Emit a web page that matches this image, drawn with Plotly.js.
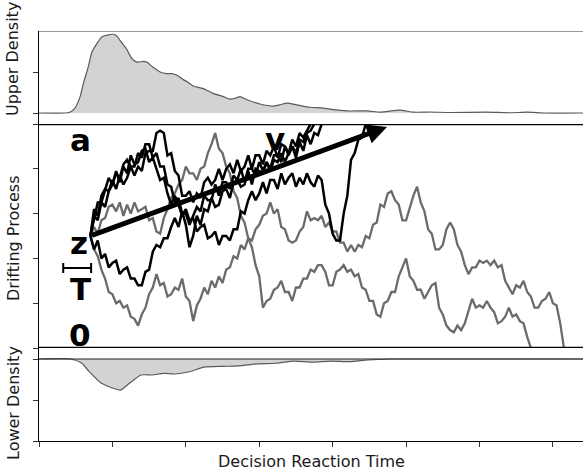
<!DOCTYPE html>
<html><head><meta charset="utf-8">
<script src="https://cdn.plot.ly/plotly-3.0.1.min.js"></script>
<style>html,body{margin:0;padding:0;background:#fff}#chart{width:583px;height:473px}</style>
</head><body><div id="chart"></div>
<script>
// ---------- data ----------
const X_TICKS = [0,1,2,3,4,5,6,7];
const MID_TICKS = [0,0.2,0.4,0.6,0.8,1.0];
const UPPER_TICKS = [0,0.5];
const LOWER_TICKS = [-1,-0.5,0];

// upper-boundary RT density
const UPPER_X = [0,0.354,0.42,0.49,0.56,0.61,0.67,0.72,0.79,0.86,0.93,1.01,1.06,1.10,1.16,1.20,1.24,1.28,1.34,1.42,1.47,1.55,1.65,1.74,1.81,1.88,1.96,2.02,2.10,2.23,2.37,2.51,2.60,2.67,2.74,2.81,2.87,3.01,3.19,3.28,3.38,3.51,3.69,3.87,4.01,4.20,4.47,4.65,4.92,5.10,5.33,5.60,6.10,6.42,6.65,6.89,7.41];
const UPPER_Y = [0,0,0.01,0.06,0.20,0.38,0.56,0.74,0.85,0.93,0.95,0.96,0.94,0.89,0.82,0.77,0.70,0.65,0.62,0.63,0.62,0.56,0.50,0.48,0.48,0.46,0.41,0.38,0.33,0.30,0.24,0.20,0.17,0.18,0.20,0.17,0.15,0.11,0.085,0.10,0.12,0.10,0.07,0.06,0.04,0.025,0.025,0.01,0.035,0.01,0.012,0.006,0.01,0.003,0.01,0,0];

// lower-boundary RT density (drawn downward)
const LOWER_X = [0,0.43,0.58,0.68,0.84,0.99,1.11,1.24,1.39,1.54,1.70,1.85,2.05,2.25,2.50,2.71,2.96,3.22,3.47,3.72,3.98,4.23,4.48,4.78,7.41];
const LOWER_Y = [0,0,-0.05,-0.15,-0.29,-0.35,-0.38,-0.29,-0.195,-0.195,-0.175,-0.183,-0.155,-0.10,-0.09,-0.085,-0.06,-0.052,-0.025,-0.037,-0.025,-0.033,-0.012,0,0];

// simulation time grid
const TIME = [0.70,0.75,0.80,0.85,0.90,0.95,1.00,1.05,1.10,1.15,1.20,1.25,1.30,1.35,1.40,1.45,1.50,1.55,1.60,1.65,1.70,1.75,1.80,1.85,1.90,1.95,2.00,2.05,2.10,2.15,2.20,2.25,2.30,2.35,2.40,2.45,2.50,2.55,2.60,2.65,2.70,2.75,2.80,2.85,2.90,2.95,3.00,3.05,3.10,3.15,3.20,3.25,3.30,3.35,3.40,3.45,3.50,3.55,3.60,3.65,3.70,3.75,3.80,3.85,3.90,3.95,4.00,4.05,4.10,4.15,4.20,4.25,4.30,4.35,4.40,4.45,4.50,4.55,4.60,4.65,4.70,4.75,4.80,4.85,4.90,4.95,5.00,5.05,5.10,5.15,5.20,5.25,5.30,5.35,5.40,5.45,5.50,5.55,5.60,5.65,5.70,5.75,5.80,5.85,5.90,5.95,6.00,6.05,6.10,6.15,6.20,6.25,6.30,6.35,6.40,6.45,6.50,6.55,6.60,6.65,6.70,6.75,6.80,6.85,6.90,6.95,7.00,7.05,7.10,7.15];

// paths ending at the lower boundary (gray)
const LOWER_PATH_1 = [0.50,0.44,0.41,0.35,0.31,0.25,0.24,0.20,0.21,0.18,
  0.19,0.14,0.13,0.10,0.15,0.18,0.24,0.27,0.33,0.28,
  0.29,0.23,0.24,0.27,0.26,0.31,0.23,0.21,0.12,0.19,
  0.22,0.27,0.24,0.30,0.27,0.32,0.29,0.35,0.36,0.41,
  0.40,0.46,0.44,0.49,0.48,0.53,0.55,0.59,0.60,0.65,
  0.60,0.62,0.54,0.53,0.48,0.47,0.48,0.52,0.54,0.61,
  0.57,0.58,0.57,0.59,0.54,0.56,0.52,0.52,0.47,0.47,
  0.43,0.46,0.43,0.46,0.45,0.50,0.49,0.55,0.56,0.64,
  0.63,0.69,0.70,0.66,0.64,0.57,0.57,0.63,0.68,0.72,
  0.65,0.61,0.53,0.51,0.44,0.44,0.46,0.53,0.56,0.53,
  0.46,0.43,0.37,0.33,0.36,0.36,0.39,0.38,0.39,0.37,
  0.39,0.36,0.37,0.30,0.27,0.24,0.28,0.27,0.30,0.25,
  0.23,0.18,0.18,0.21,0.22,0.25,0.20,0.19,0.11,0.00];
const LOWER_PATH_2 = [0.50,0.54,0.51,0.57,0.58,0.63,0.64,0.61,0.65,0.59,
  0.64,0.60,0.65,0.61,0.62,0.63,0.57,0.58,0.52,0.51,
  0.58,0.62,0.67,0.69,0.73,0.75,0.81,0.78,0.78,0.75,
  0.80,0.81,0.87,0.91,0.96,0.89,0.87,0.81,0.78,0.70,
  0.67,0.59,0.56,0.49,0.45,0.37,0.32,0.18,0.21,0.22,
  0.26,0.27,0.30,0.25,0.25,0.21,0.27,0.27,0.31,0.31,
  0.35,0.34,0.37,0.37,0.34,0.28,0.28,0.34,0.35,0.37,
  0.34,0.35,0.32,0.33,0.27,0.26,0.21,0.21,0.15,0.14,
  0.20,0.21,0.25,0.25,0.32,0.36,0.40,0.32,0.30,0.26,
  0.26,0.22,0.25,0.28,0.29,0.18,0.15,0.10,0.08,0.07,
  0.10,0.08,0.11,0.16,0.22,0.18,0.19,0.18,0.21,0.18,
  0.16,0.11,0.12,0.14,0.18,0.14,0.15,0.12,0.11,0.05,0.00];

// paths ending at the upper boundary (black)
const UPPER_PATH_1 = [0.50,0.59,0.57,0.65,0.63,0.70,0.75,0.71,0.77,0.73,
  0.76,0.81,0.77,0.81,0.79,0.87,0.88,0.88,0.96,0.97,
  0.96,0.86,0.87,0.79,0.77,0.68,0.68,0.70,0.65,0.69,
  0.67,0.74,0.76,0.73,0.75,0.80,0.75,0.80,0.82,0.78,
  0.84,0.79,0.81,0.86,0.80,0.86,0.86,0.82,0.88,0.86,
  0.90,0.85,0.91,0.90,0.87,0.93,0.90,0.96,0.94,0.97,1.00];
const UPPER_PATH_2 = [0.50,0.44,0.48,0.40,0.42,0.36,0.38,0.39,0.33,0.35,
  0.36,0.31,0.31,0.28,0.28,0.34,0.35,0.43,0.46,0.45,
  0.49,0.49,0.54,0.58,0.54,0.61,0.55,0.45,0.50,0.59,
  0.55,0.62,0.61,0.67,0.63,0.64,0.70,0.71,0.67,0.74,
  0.75,0.72,0.73,0.79,0.73,0.80,0.79,0.78,0.83,0.79,
  0.84,0.83,0.87,0.83,0.87,0.90,0.85,0.92,0.88,0.95,
  0.91,0.96,0.95,1.00];
const UPPER_PATH_3 = [0.50,0.62,0.59,0.68,0.71,0.70,0.73,0.79,0.74,0.81,
  0.78,0.86,0.82,0.83,0.88,0.89,0.83,0.85,0.80,0.75,
  0.76,0.69,0.64,0.68,0.64,0.59,0.62,0.57,0.58,0.52,
  0.54,0.55,0.49,0.50,0.52,0.46,0.50,0.50,0.48,0.53,
  0.53,0.61,0.60,0.66,0.70,0.66,0.69,0.74,0.69,0.75,
  0.75,0.71,0.78,0.73,0.76,0.78,0.72,0.76,0.73,0.78,
  0.74,0.72,0.77,0.75,0.64,0.60,0.51,0.48,0.48,0.60,
  0.68,0.84,0.87,0.93,0.94,1.00];
const UPPER_PATH_4 = [0.50,0.57,0.65,0.65,0.71,0.76,0.73,0.78,0.76,0.82,
  0.84,0.81,0.81,0.87,0.85,0.91,0.91,0.85,0.87,0.81,
  0.81,0.73,0.72,0.65,0.67,0.60,0.60,0.55,0.59,0.63,
  0.61,0.68,0.66,0.66,0.73,0.68,0.74,0.74,0.71,0.77,
  0.75,0.80,0.74,0.80,0.80,0.77,0.83,0.79,0.83,0.80,
  0.86,0.86,0.83,0.90,0.86,0.90,0.87,0.93,0.92,0.96,
  0.97,1.00];

// model parameters
const BOUND_A = 1.0, BOUND_0 = 0.0;
const Z_START = 0.5, T_ONSET = 0.70;
const DRIFT_END = [4.74, 0.987];
const NDT_START = 0.33, NDT_END = 0.71, NDT_LEVEL = 0.357;

// ---------- figure ----------
const GRAY = '#6b6b6b';
const traces = [];
const dens = (x, y, ya) => ({x, y, xaxis:'x', yaxis:ya, type:'scatter', mode:'lines',
  fill:'tozeroy', fillcolor:'#d3d3d3', line:{color:'#5a5a5a', width:1.2, shape:'spline', smoothing:0.6}, hoverinfo:'skip'});
traces.push(dens(UPPER_X, UPPER_Y, 'y3'));
traces.push(dens(LOWER_X, LOWER_Y, 'y'));
[LOWER_PATH_1, LOWER_PATH_2].forEach(p => traces.push({x:TIME.slice(0,p.length), y:p, xaxis:'x', yaxis:'y2',
  type:'scatter', mode:'lines', line:{color:GRAY, width:2.3}, hoverinfo:'skip'}));
[UPPER_PATH_1, UPPER_PATH_2, UPPER_PATH_3, UPPER_PATH_4].forEach(p => traces.push({x:TIME.slice(0,p.length), y:p, xaxis:'x', yaxis:'y2',
  type:'scatter', mode:'lines', line:{color:'#000', width:2.5}, hoverinfo:'skip'}));
traces.push({x:[(NDT_START+NDT_END)/2], y:[NDT_LEVEL], xaxis:'x', yaxis:'y2', type:'scatter', mode:'markers',
  marker:{size:2, color:'rgba(0,0,0,0)'}, error_x:{type:'data', array:[(NDT_END-NDT_START)/2], width:5, thickness:2, color:'#000'}, hoverinfo:'skip'});

const PLOT_H = 410;
const pf = py => (441 - py) / PLOT_H;
const yax = (domain, range, tickvals) => ({domain, range, tickvals, ticks:'outside', ticklen:5, tickwidth:1, tickcolor:'#333',
  showticklabels:false, showline:true, linecolor:'#000', linewidth:1, zeroline:false, showgrid:false, anchor:'x', fixedrange:true});

const F = 'DejaVu Sans, sans-serif';
const lbl = (t, x, y) => ({text:'<b>'+t+'</b>', x, y, xref:'x', yref:'y2', showarrow:false, font:{family:F, size:31, color:'#000'}, xanchor:'center', yanchor:'middle'});
const ttl = (t, x, y, ang) => ({text:t, x, y, xref:'paper', yref:'paper', showarrow:false, textangle:ang, font:{family:F, size:16, color:'#1a1a1a'}, xanchor:'center', yanchor:'middle'});

const layout = {
  width:583, height:473, margin:{l:39, r:0, t:31, b:32}, paper_bgcolor:'#fff', plot_bgcolor:'#fff', showlegend:false,
  xaxis:{range:[0,7.41], tickvals:X_TICKS, ticks:'outside', ticklen:5, tickwidth:1, tickcolor:'#333', showticklabels:false,
    showline:true, linecolor:'#000', linewidth:1, zeroline:false, showgrid:false, anchor:'y', fixedrange:true},
  yaxis: yax([0, pf(348)], [-1, 0.1341], LOWER_TICKS),
  yaxis2: yax([pf(348), pf(124)], [0, 1], MID_TICKS),
  yaxis3: yax([pf(124), 1], [-0.1341, 1], UPPER_TICKS),
  shapes:[
    {type:'line', xref:'paper', x0:0, x1:1, yref:'y2', y0:BOUND_A, y1:BOUND_A, line:{color:'#000', width:2.5}},
    {type:'line', xref:'paper', x0:0, x1:1, yref:'y2', y0:BOUND_0, y1:BOUND_0, line:{color:'#000', width:2.5}},
    {type:'line', xref:'paper', x0:0, x1:1, yref:'y3', y0:1, y1:1, line:{color:'#777', width:1.5}},
    {type:'line', xref:'paper', x0:0, x1:1, yref:'y', y0:0, y1:0, line:{color:'#222', width:1.2}}
  ],
  annotations:[
    {x:DRIFT_END[0], y:DRIFT_END[1], ax:T_ONSET, ay:Z_START, xref:'x', yref:'y2', axref:'x', ayref:'y2', text:'',
      showarrow:true, arrowhead:2, arrowsize:0.8, arrowwidth:5, arrowcolor:'#000', standoff:0},
    lbl('a', 0.56, 0.93), lbl('v', 3.215, 0.935), lbl('z', 0.545, 0.47), lbl('T', 0.572, 0.263), lbl('0', 0.56, 0.058),
    ttl('Upper Density', -0.0478, pf(59), -90),
    ttl('Drifting Process', -0.0478, pf(238), -90),
    ttl('Lower Density', -0.0478, pf(403), -90),
    ttl('Decision Reaction Time', 0.5, pf(461), 0)
  ]
};
Plotly.newPlot('chart', traces, layout, {staticPlot:true, displayModeBar:false});
</script></body></html>
